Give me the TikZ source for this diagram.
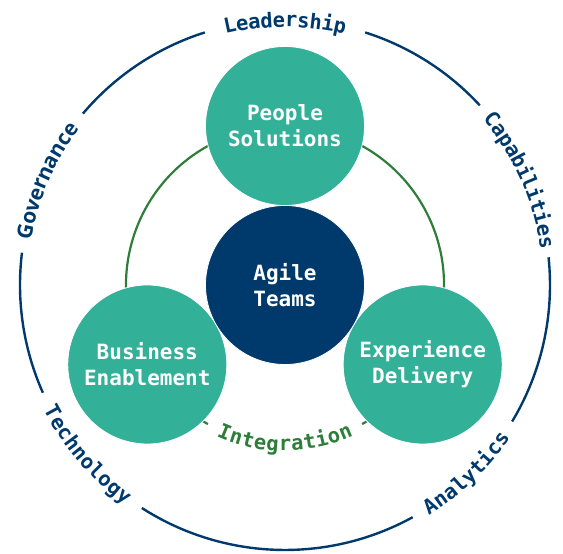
\documentclass[tikz,border=0pt]{standalone}
\usepackage{fontspec}
\setmainfont{DejaVu Sans Mono}
\newfontfamily\monob{DejaVu Sans Mono}
\newfontfamily\govfont{Open Sans}
\usetikzlibrary{decorations.text}
\definecolor{cTeal}{RGB}{50,176,152}
\definecolor{cNavy}{RGB}{0,58,108}
\definecolor{cGreen}{RGB}{46,125,58}
\newcommand{\circfont}{\monob\fontsize{21}{26}\bfseries\selectfont}
\newcommand{\ringfont}{\monob\fontsize{20.5}{24}\bfseries\selectfont}
\newcommand{\govringfont}{\govfont\fontsize{21}{24}\bfseries\selectfont}
\tikzset{
  outerline/.style={draw=cNavy, line width=2.4pt},
  greenline/.style={draw=cGreen, line width=2.2pt},
  bubble/.style={circle, fill=cTeal, draw=white, line width=0.8pt, minimum size=159pt,
    inner sep=0pt, text=white, font=\circfont, align=center},
  hub/.style={bubble, fill=cNavy},
}
\begin{document}
\begin{tikzpicture}[x=1pt,y=1pt]
\useasboundingbox (0,0) rectangle (563,554);
\coordinate (O) at (285,269);
% outer ring segments
\foreach \a/\b in {42.7/72.4, 107.6/139.7, 173/204, 237.3/298.8, 329/366}{
  \draw[outerline] ([shift={(\a:265)}]O) arc[start angle=\a, end angle=\b, radius=265];
}
% outer ring labels (clockwise on top)
\path[decorate, decoration={text along path, text={|\ringfont|Leadership}, text align=center, text color=cNavy, raise=-7pt}]
  ([shift={(107.6:265)}]O) arc[start angle=107.6, end angle=72.4, radius=265];
\path[decorate, decoration={text along path, text={|\ringfont|Capabilities}, text align=center, text color=cNavy, raise=-7pt}]
  ([shift={(42.7:265)}]O) arc[start angle=42.7, end angle=5.3, radius=265];
\path[decorate, decoration={text along path, text={|\govringfont|Governance}, text align=center, text color=cNavy, raise=-7pt}]
  ([shift={(173:265)}]O) arc[start angle=173, end angle=139.7, radius=265];
% bottom labels (counter-clockwise)
\path[decorate, decoration={text along path, text={|\ringfont|Technology}, text align=center, text color=cNavy, raise=-7pt}]
  ([shift={(204:265)}]O) arc[start angle=204, end angle=237.3, radius=265];
\path[decorate, decoration={text along path, text={|\ringfont|Analytics}, text align=center, text color=cNavy, raise=-7pt}]
  ([shift={(298.8:265)}]O) arc[start angle=298.8, end angle=329, radius=265];
% green ring
\draw[greenline] ([shift={(299:159)}]O) arc[start angle=299, end angle=601, radius=159];
\path[decorate, decoration={text along path, text={|\ringfont|Integration}, text align=center, text color=cGreen, raise=-7pt}]
  ([shift={(241:159)}]O) arc[start angle=241, end angle=299, radius=159];
% bubbles
\node[bubble] (people) at ([shift={(90:159)}]O) {People\\Solutions};
\node[bubble] (business) at ([shift={(210:159)}]O) {Business\\Enablement};
\node[bubble] (experience) at ([shift={(330:159)}]O) {Experience\\Delivery};
\node[hub] (agile) at (O) {Agile\\Teams};
\end{tikzpicture}
\end{document}
